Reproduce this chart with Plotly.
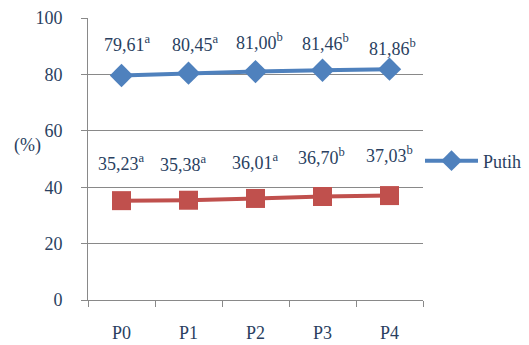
import plotly.graph_objects as go

# Treatments and measured values (%)
categories = ["P0", "P1", "P2", "P3", "P4"]
putih = [79.61, 80.45, 81.00, 81.46, 81.86]
merah = [35.23, 35.38, 36.01, 36.70, 37.03]
putih_sig = ["a", "a", "b", "b", "b"]
merah_sig = ["a", "a", "a", "b", "b"]
y_ticks = [0, 20, 40, 60, 80, 100]

# label placement offsets (px) relative to each point
putih_dx = [6, 7, 4, 3, 3]
putih_dy = [32, 30, 30, 28, 22]
merah_dx = [0, -5, 0, -1, 0]
merah_dy = [38, 37, 37, 40, 41]

FONT = "Liberation Serif"
BLUE = "#4F81BD"
RED = "#C0504D"
GRID = "#898989"

fig = go.Figure()
fig.add_trace(go.Scatter(
    x=categories, y=merah, mode="lines+markers", name="Merah",
    line=dict(color=RED, width=4),
    marker=dict(symbol="square", size=19, color=RED),
    showlegend=False,
))
fig.add_trace(go.Scatter(
    x=categories, y=putih, mode="lines+markers", name="Putih",
    line=dict(color=BLUE, width=4),
    marker=dict(symbol="diamond", size=18, color=BLUE),
))

for series, sig, dx, dy in [(putih, putih_sig, putih_dx, putih_dy),
                            (merah, merah_sig, merah_dx, merah_dy)]:
    for c, v, s, sx, sy in zip(categories, series, sig, dx, dy):
        fig.add_annotation(
            x=c, y=v, xref="x", yref="y",
            text=f"{v:.2f}".replace(".", ",") + f"<sup>{s}</sup>",
            showarrow=False, xshift=sx, yshift=sy,
            font=dict(family=FONT, size=18),
        )

# plot area in pixels; the "(%)" label and legend are placed in paper units
L, R, T, B = 88, 106, 18, 45
pw, ph = 529 - L - R, 345 - T - B
fig.add_annotation(
    x=(27 - L) / pw, y=(345 - B - 145) / ph, xref="paper", yref="paper",
    text="(%)", showarrow=False, xanchor="center", yanchor="middle",
    font=dict(family=FONT, size=18),
)

fig.update_layout(
    width=529, height=345,
    margin=dict(l=L, r=R, t=T, b=B, autoexpand=False),
    paper_bgcolor="white", plot_bgcolor="white",
    legend=dict(x=(420 - L) / pw, y=(345 - B - 161) / ph,
                xanchor="left", yanchor="middle",
                font=dict(family=FONT, size=18),
                bgcolor="rgba(0,0,0,0)", itemwidth=53),
)

fig.update_xaxes(
    type="category", range=[-0.5, 4.5], tickson="boundaries",
    ticks="outside", ticklen=6, tickcolor=GRID, tickwidth=1,
    showline=True, linecolor=GRID, linewidth=1, showgrid=False,
    ticklabelstandoff=16, tickfont=dict(family=FONT, size=18),
)
fig.update_yaxes(
    range=[0, 100], tickvals=y_ticks, ticks="outside", ticklen=6,
    tickcolor=GRID, tickwidth=1, showline=True, linecolor=GRID, linewidth=1,
    showgrid=True, gridcolor=GRID, gridwidth=1, zeroline=False,
    ticklabelstandoff=15, tickfont=dict(family=FONT, size=18),
)

fig.write_html("out.html")
